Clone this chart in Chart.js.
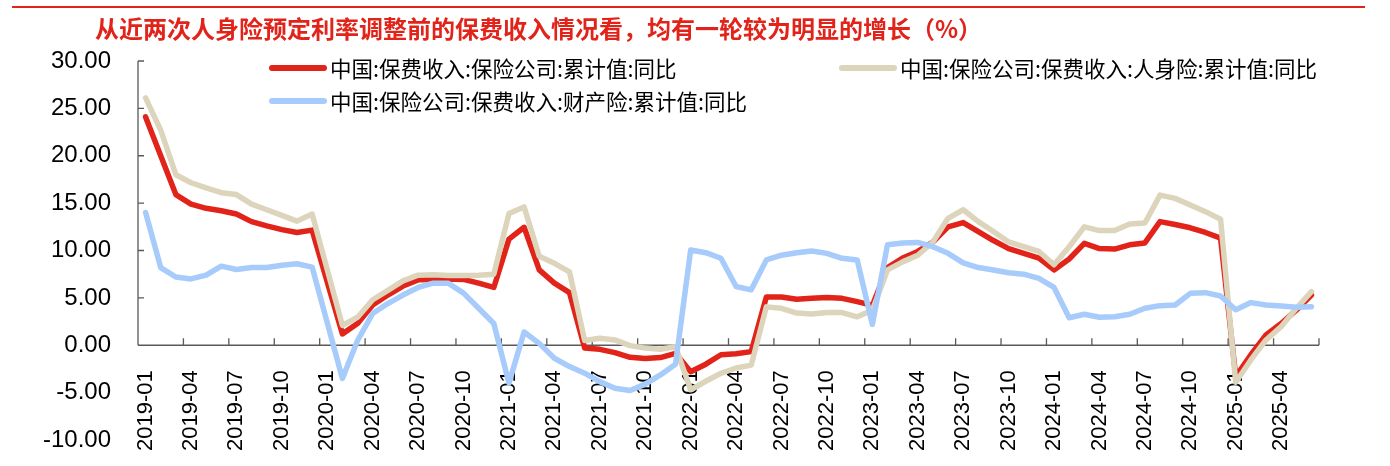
<!DOCTYPE html>
<html lang="zh-CN">
<head>
<meta charset="utf-8">
<script src="https://cdn.jsdelivr.net/npm/chart.js@4.4.1/dist/chart.umd.min.js"></script>
<style>
  html, body { margin: 0; padding: 0; background: #fff; }
  #wrap { position: relative; width: 1390px; height: 466px; overflow: hidden; }
  #chart { position: absolute; left: 0; top: 0; }
  #topline { position: absolute; left: 12px; top: 6px; width: 1353px; height: 2px; background: #e2231a; }
  #title {
    position: absolute; left: 95px; top: 10px; line-height: 24px; white-space: nowrap;
    font: bold 24px "Noto Sans CJK SC", sans-serif; color: #e2231a;
  }
</style>
</head>
<body>
<div id="wrap">
  <canvas id="chart" width="1390" height="466"></canvas>
  <div id="topline"></div>
  <div id="title">从近两次人身险预定利率调整前的保费收入情况看，均有一轮较为明显的增长（%）</div>
</div>
<script>
// ── DATA ──────────────────────────────────────────────────────
const MONTHS = [
  '2019-01','2019-02','2019-03','2019-04','2019-05','2019-06','2019-07','2019-08','2019-09','2019-10','2019-11','2019-12',
  '2020-01','2020-02','2020-03','2020-04','2020-05','2020-06','2020-07','2020-08','2020-09','2020-10','2020-11','2020-12',
  '2021-01','2021-02','2021-03','2021-04','2021-05','2021-06','2021-07','2021-08','2021-09','2021-10','2021-11','2021-12',
  '2022-01','2022-02','2022-03','2022-04','2022-05','2022-06','2022-07','2022-08','2022-09','2022-10','2022-11','2022-12',
  '2023-01','2023-02','2023-03','2023-04','2023-05','2023-06','2023-07','2023-08','2023-09','2023-10','2023-11','2023-12',
  '2024-01','2024-02','2024-03','2024-04','2024-05','2024-06','2024-07','2024-08','2024-09','2024-10','2024-11','2024-12',
  '2025-01','2025-02','2025-03','2025-04','2025-05','2025-06',
];

const SERIES_NAMES = [
  '中国:保费收入:保险公司:累计值:同比',
  '中国:保险公司:保费收入:人身险:累计值:同比',
  '中国:保险公司:保费收入:财产险:累计值:同比',
];

// 保险公司合计 (2020-01 未单独公布)
const TOTAL = [
  24.1, 20.0, 15.9, 14.9, 14.45, 14.2, 13.85, 13.05, 12.6, 12.2, 11.9, 12.15,
  null, 1.2, 2.3, 4.25, 5.3, 6.25, 6.9, 6.95, 7.0, 6.95, 6.55, 6.1,
  11.2, 12.45, 7.95, 6.55, 5.55, -0.3, -0.43, -0.78, -1.27, -1.4, -1.3, -0.85,
  -2.8, -2.0, -1.0, -0.9, -0.67, 5.1, 5.1, 4.85, 4.95, 5.05, 4.95, 4.6,
  4.2, 8.2, 9.2, 9.9, 10.9, 12.5, 12.95, 12.0, 11.05, 10.2, 9.7, 9.2,
  7.95, 9.1, 10.75, 10.2, 10.15, 10.6, 10.8, 13.05, 12.75, 12.4, 11.9, 11.3,
  -3.3, -1.0, 1.1, 2.3, 3.7, 5.3,
];

// 人身险
const LIFE = [
  26.1, 22.7, 18.0, 17.15, 16.6, 16.1, 15.9, 14.9, 14.3, 13.7, 13.1, 13.85,
  null, 2.1, 2.95, 4.8, 5.8, 6.8, 7.4, 7.45, 7.35, 7.35, 7.4, 7.5,
  13.9, 14.6, 9.4, 8.65, 7.75, 0.5, 0.74, 0.56, -0.04, -0.3, -0.43, -0.15,
  -4.7, -3.8, -2.96, -2.4, -2.1, 4.05, 3.9, 3.4, 3.3, 3.45, 3.45, 3.0,
  3.7, 7.95, 8.8, 9.5, 10.9, 13.4, 14.3, 13.05, 12.0, 10.9, 10.4, 9.9,
  8.5, 10.4, 12.5, 12.1, 12.1, 12.8, 12.9, 15.85, 15.5, 14.8, 14.1, 13.3,
  -3.9, -1.55, 0.56, 1.96, 3.9, 5.65,
];

// 财产险
const PROPERTY = [
  14.0, 8.2, 7.2, 7.0, 7.4, 8.35, 8.0, 8.2, 8.2, 8.45, 8.6, 8.25,
  null, -3.5, 0.5, 3.35, 4.4, 5.3, 6.1, 6.55, 6.55, 5.5, 3.9, 2.3,
  -4.0, 1.4, 0.2, -1.37, -2.25, -2.95, -3.84, -4.54, -4.78, -4.1, -3.13, -2.0,
  10.05, 9.77, 9.18, 6.2, 5.85, 9.0, 9.5, 9.77, 9.95, 9.7, 9.18, 9.0,
  2.2, 10.6, 10.8, 10.85, 10.4, 9.7, 8.7, 8.2, 7.95, 7.65, 7.5, 7.05,
  6.1, 2.9, 3.27, 2.95, 3.0, 3.27, 3.9, 4.18, 4.25, 5.48, 5.55, 5.2,
  3.75, 4.5, 4.25, 4.15, 4.0, 4.07,
];

const Y_MIN = -10, Y_MAX = 30, Y_STEP = 5;

// ── STYLE ─────────────────────────────────────────────────────
const COLORS = { red: '#e2231a', beige: '#ddd4bc', blue: '#a7cbfb', axis: '#595959', text: '#000' };
const FONT_NUM = "'Liberation Sans', Arial, sans-serif";
const FONT_CJK = "'Noto Sans CJK SC', sans-serif";

// y轴只画到0，刻度线朝内
const axisMarks = {
  id: 'axisMarks',
  beforeDatasetsDraw(chart) {
    const { ctx, scales: { x, y } } = chart;
    const y0 = y.getPixelForValue(0);
    const half = (x.getPixelForValue(1) - x.getPixelForValue(0)) / 2;
    ctx.save();
    ctx.strokeStyle = COLORS.axis;
    ctx.lineWidth = 1.3;
    ctx.beginPath();
    ctx.moveTo(x.left, y.getPixelForValue(Y_MAX));
    ctx.lineTo(x.left, y0);
    ctx.moveTo(x.left, y0);
    ctx.lineTo(x.right, y0);
    for (let v = 0; v <= Y_MAX; v += Y_STEP) {
      const py = y.getPixelForValue(v);
      ctx.moveTo(x.left, py);
      ctx.lineTo(x.left + 6, py);
    }
    for (let i = 3; i <= MONTHS.length; i += 3) {
      const px = i < MONTHS.length ? x.getPixelForValue(i) - half : x.right;
      ctx.moveTo(px, y0);
      ctx.lineTo(px, y0 - 7);
    }
    ctx.stroke();
    ctx.restore();
  }
};

// 图例：两行，位置按原图
const LEGEND_POS = [[272, 68], [842, 68], [272, 101]];
const legendLines = {
  id: 'legendLines',
  afterDraw(chart) {
    const { ctx } = chart;
    ctx.save();
    ctx.font = `21.5px ${FONT_CJK}`;
    ctx.textBaseline = 'middle';
    ctx.lineCap = 'round';
    chart.data.datasets.forEach((ds, i) => {
      const [lx, ly] = LEGEND_POS[i];
      ctx.strokeStyle = ds.borderColor;
      ctx.lineWidth = 6;
      ctx.beginPath();
      ctx.moveTo(lx, ly);
      ctx.lineTo(lx + 52, ly);
      ctx.stroke();
      ctx.fillStyle = COLORS.text;
      ctx.fillText(ds.label, lx + 58, ly + 1);
    });
    ctx.restore();
  }
};

new Chart(document.getElementById('chart'), {
  type: 'line',
  data: {
    labels: MONTHS,
    datasets: [
      { label: SERIES_NAMES[0], data: TOTAL, borderColor: COLORS.red, order: 2 },
      { label: SERIES_NAMES[1], data: LIFE, borderColor: COLORS.beige, order: 1 },
      { label: SERIES_NAMES[2], data: PROPERTY, borderColor: COLORS.blue, order: 0 },
    ]
  },
  options: {
    responsive: false, animation: false, devicePixelRatio: 1,
    spanGaps: true,
    elements: {
      line: { borderWidth: 5.5, tension: 0, borderCapStyle: 'round', borderJoinStyle: 'round', fill: false },
      point: { radius: 0, hoverRadius: 0 }
    },
    layout: { padding: { top: 61, right: 71, bottom: 26, left: 0 } },
    plugins: { legend: { display: false }, tooltip: { enabled: false } },
    scales: {
      x: {
        type: 'category', offset: true, position: { y: 0 },
        grid: { display: false, drawTicks: false },
        border: { display: false },
        ticks: {
          autoSkip: false, minRotation: 90, maxRotation: 90, padding: 25,
          color: COLORS.text, font: { family: FONT_NUM, size: 22 },
          callback: (v, i) => (i % 3 === 0 ? MONTHS[i] : '')
        },
        // 轴在图内(y=0)，不要让旋转标签撑开绘图区
        afterFit: s => { s.paddingTop = s.paddingBottom = s.paddingLeft = s.paddingRight = 0; }
      },
      y: {
        min: Y_MIN, max: Y_MAX,
        grid: { display: false, drawTicks: false },
        border: { display: false },
        ticks: {
          stepSize: Y_STEP, padding: 27, color: COLORS.text,
          font: { family: FONT_NUM, size: 24 },
          callback: v => v.toFixed(2)
        },
        // ticks.padding 也会加到上下留白里，这里清掉，绘图区由 layout.padding 决定
        afterFit: s => { s.width = 138; s.paddingTop = s.paddingBottom = 0; }
      }
    }
  },
  plugins: [axisMarks, legendLines]
});
</script>
</body>
</html>
